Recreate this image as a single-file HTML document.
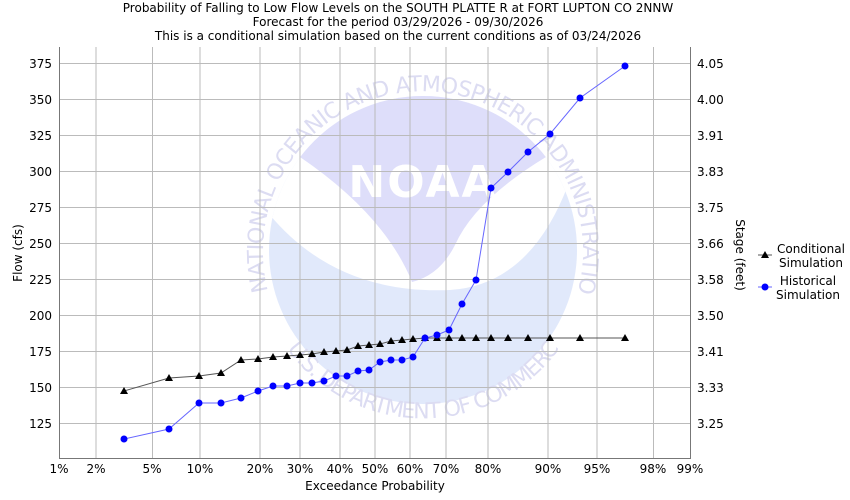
<!DOCTYPE html>
<html><head><style>body{margin:0;background:#fff}svg{display:block}text{font-family:"DejaVu Sans","Liberation Sans",sans-serif}</style></head><body>
<svg width="850" height="500" viewBox="0 0 850 500" xmlns="http://www.w3.org/2000/svg">
<rect width="850" height="500" fill="#fff"/>
<g font-size="12" text-anchor="middle" fill="#000">
<text x="398" y="12">Probability of Falling to Low Flow Levels on the SOUTH PLATTE R at FORT LUPTON CO 2NNW</text>
<text x="398" y="26">Forecast for the period 03/29/2026 - 09/30/2026</text>
<text x="398" y="40">This is a conditional simulation based on the current conditions as of 03/24/2026</text>
</g>
<!-- watermark -->
<defs>
<clipPath id="cc"><circle cx="423" cy="250" r="154"/></clipPath>
<path id="ring" d="M 268 291 A 160 160 0 1 1 578 291"/>
<path id="ring2" d="M 287 349 A 168 168 0 0 0 559 349"/>
</defs>
<circle cx="423" cy="250" r="154" fill="#e1e9fb"/>
<g clip-path="url(#cc)">
<path d="M262,205 Q330,295 450,290 Q530,285 568,185 L568,90 L262,90Z" fill="#fff"/>
<path d="M300,157 A154 154 0 0 1 546,157 Q475,200 455,245 Q440,275 412,282 Q385,215 300,157Z" fill="#dedefa"/>
</g>
<text x="423" y="197" font-size="44" font-weight="bold" fill="#fff" text-anchor="middle" letter-spacing="2">NOAA</text>
<text font-size="22" fill="#dcdcf2"><textPath href="#ring" textLength="600" lengthAdjust="spacing">NATIONAL OCEANIC AND ATMOSPHERIC ADMINISTRATION</textPath></text>
<text font-size="22" fill="#dcdcf2"><textPath href="#ring2" textLength="330" lengthAdjust="spacing">U.S. DEPARTMENT OF COMMERCE</textPath></text>
<!-- grid -->
<g stroke="#bbb" stroke-width="1">
<line x1="96" y1="47" x2="96" y2="458"/><line x1="152.5" y1="47" x2="152.5" y2="458"/><line x1="200" y1="47" x2="200" y2="458"/><line x1="260" y1="47" x2="260" y2="458"/><line x1="300" y1="47" x2="300" y2="458"/><line x1="340" y1="47" x2="340" y2="458"/><line x1="375" y1="47" x2="375" y2="458"/><line x1="410" y1="47" x2="410" y2="458"/><line x1="446" y1="47" x2="446" y2="458"/><line x1="488" y1="47" x2="488" y2="458"/><line x1="548" y1="47" x2="548" y2="458"/><line x1="597" y1="47" x2="597" y2="458"/><line x1="653.5" y1="47" x2="653.5" y2="458"/>
<line x1="59" y1="63.5" x2="690" y2="63.5"/><line x1="59" y1="99.5" x2="690" y2="99.5"/><line x1="59" y1="135.5" x2="690" y2="135.5"/><line x1="59" y1="171.5" x2="690" y2="171.5"/><line x1="59" y1="207.5" x2="690" y2="207.5"/><line x1="59" y1="243.5" x2="690" y2="243.5"/><line x1="59" y1="279.5" x2="690" y2="279.5"/><line x1="59" y1="315.5" x2="690" y2="315.5"/><line x1="59" y1="351.5" x2="690" y2="351.5"/><line x1="59" y1="387.5" x2="690" y2="387.5"/><line x1="59" y1="423.5" x2="690" y2="423.5"/>
</g>
<g stroke="#777" stroke-width="1" fill="none">
<polyline points="59.5,47 59.5,458.5 690.5,458.5 690.5,47"/>
</g>
<g font-size="12" fill="#000" text-anchor="middle">
<text x="59" y="473">1%</text><text x="96" y="473">2%</text><text x="152" y="473">5%</text><text x="200" y="473">10%</text><text x="260" y="473">20%</text><text x="300" y="473">30%</text><text x="340" y="473">40%</text><text x="375" y="473">50%</text><text x="410" y="473">60%</text><text x="446" y="473">70%</text><text x="488" y="473">80%</text><text x="548" y="473">90%</text><text x="597" y="473">95%</text><text x="653" y="473">98%</text><text x="690" y="473">99%</text>
<text x="375" y="490">Exceedance Probability</text>
</g>
<g font-size="12" text-anchor="end">
<text x="52" y="68">375</text><text x="52" y="104">350</text><text x="52" y="140">325</text><text x="52" y="176">300</text><text x="52" y="212">275</text><text x="52" y="248">250</text><text x="52" y="284">225</text><text x="52" y="320">200</text><text x="52" y="356">175</text><text x="52" y="392">150</text><text x="52" y="428">125</text>
</g>
<g font-size="12">
<text x="697" y="68">4.05</text><text x="697" y="104">4.00</text><text x="697" y="140">3.91</text><text x="697" y="176">3.83</text><text x="697" y="212">3.75</text><text x="697" y="248">3.66</text><text x="697" y="284">3.58</text><text x="697" y="320">3.50</text><text x="697" y="356">3.41</text><text x="697" y="392">3.33</text><text x="697" y="428">3.25</text>
</g>
<text transform="translate(22,253) rotate(-90)" font-size="12" text-anchor="middle">Flow (cfs)</text>
<text transform="translate(736,255) rotate(90)" font-size="12" text-anchor="middle">Stage (feet)</text>
<!-- series -->
<polyline fill="none" stroke="#555" stroke-width="1" points="124,391 169,378 199,376 221,373 241,360 258,359 273,357 287,356 300,355 312,354 324,352 336,351 347,350 358,346 369,345 380,344 391,341 402,340 413,339 425,338 437,338 449,338 462,338 476,338 491,338 508,338 528,338 550,338 580,338 625,338"/>
<g fill="#000">
<path d="M124,387l4,7h-8z"/><path d="M169,374l4,7h-8z"/><path d="M199,372l4,7h-8z"/><path d="M221,369l4,7h-8z"/><path d="M241,356l4,7h-8z"/><path d="M258,355l4,7h-8z"/><path d="M273,353l4,7h-8z"/><path d="M287,352l4,7h-8z"/><path d="M300,351l4,7h-8z"/><path d="M312,350l4,7h-8z"/><path d="M324,348l4,7h-8z"/><path d="M336,347l4,7h-8z"/><path d="M347,346l4,7h-8z"/><path d="M358,342l4,7h-8z"/><path d="M369,341l4,7h-8z"/><path d="M380,340l4,7h-8z"/><path d="M391,337l4,7h-8z"/><path d="M402,336l4,7h-8z"/><path d="M413,335l4,7h-8z"/><path d="M425,334l4,7h-8z"/><path d="M437,334l4,7h-8z"/><path d="M449,334l4,7h-8z"/><path d="M462,334l4,7h-8z"/><path d="M476,334l4,7h-8z"/><path d="M491,334l4,7h-8z"/><path d="M508,334l4,7h-8z"/><path d="M528,334l4,7h-8z"/><path d="M550,334l4,7h-8z"/><path d="M580,334l4,7h-8z"/><path d="M625,334l4,7h-8z"/>
</g>
<polyline fill="none" stroke="#6666ff" stroke-width="1" points="124,439 169,429 199,403 221,403 241,398 258,391 273,386 287,386 300,383 312,383 324,381 336,376 347,376 358,371 369,370 380,362 391,360 402,360 413,357 425,338 437,335 449,330 462,304 476,280 491,188 508,172 528,152 550,134 580,98 625,66"/>
<g fill="#0000ff">
<circle cx="124" cy="439" r="3.5"/><circle cx="169" cy="429" r="3.5"/><circle cx="199" cy="403" r="3.5"/><circle cx="221" cy="403" r="3.5"/><circle cx="241" cy="398" r="3.5"/><circle cx="258" cy="391" r="3.5"/><circle cx="273" cy="386" r="3.5"/><circle cx="287" cy="386" r="3.5"/><circle cx="300" cy="383" r="3.5"/><circle cx="312" cy="383" r="3.5"/><circle cx="324" cy="381" r="3.5"/><circle cx="336" cy="376" r="3.5"/><circle cx="347" cy="376" r="3.5"/><circle cx="358" cy="371" r="3.5"/><circle cx="369" cy="370" r="3.5"/><circle cx="380" cy="362" r="3.5"/><circle cx="391" cy="360" r="3.5"/><circle cx="402" cy="360" r="3.5"/><circle cx="413" cy="357" r="3.5"/><circle cx="425" cy="338" r="3.5"/><circle cx="437" cy="335" r="3.5"/><circle cx="449" cy="330" r="3.5"/><circle cx="462" cy="304" r="3.5"/><circle cx="476" cy="280" r="3.5"/><circle cx="491" cy="188" r="3.5"/><circle cx="508" cy="172" r="3.5"/><circle cx="528" cy="152" r="3.5"/><circle cx="550" cy="134" r="3.5"/><circle cx="580" cy="98" r="3.5"/><circle cx="625" cy="66" r="3.5"/>
</g>
<!-- legend -->
<line x1="758" y1="255" x2="772" y2="255" stroke="#555"/><path d="M765,251l4,7h-8z" fill="#000"/>
<line x1="758" y1="287" x2="772" y2="287" stroke="#6666ff"/><circle cx="765" cy="287" r="3.5" fill="#0000ff"/>
<g font-size="12" text-anchor="middle"><text x="811" y="253">Conditional</text><text x="811" y="267">Simulation</text><text x="808" y="285">Historical</text><text x="808" y="299">Simulation</text></g>
</svg>
</body></html>
